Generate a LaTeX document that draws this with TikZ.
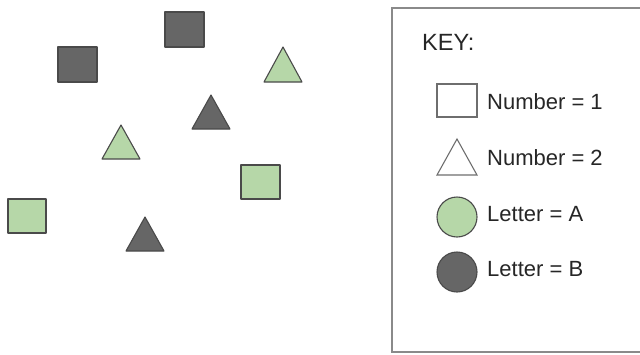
\documentclass[tikz,border=0pt]{standalone}
\usepackage{fontspec}
\setmainfont{Liberation Sans}
\definecolor{lgreen}{HTML}{B6D7A8}
\definecolor{dgray}{HTML}{666666}
\definecolor{edge}{HTML}{4A4A4A}
\definecolor{keyline}{HTML}{8A8A8A}
\definecolor{txt}{HTML}{262626}
\tikzset{
  shp/.style={draw=edge, line width=1.1pt, line join=round},
  gshape/.style={shp, fill=lgreen},
  dshape/.style={shp, fill=dgray},
  wshape/.style={draw=edge!80, line width=1.1pt, fill=white},
  lbl/.style={anchor=west, inner sep=0pt, text=txt, font=\fontsize{22}{26}\selectfont},
}
\begin{document}
\begin{tikzpicture}[x=1pt,y=-1pt]
\useasboundingbox (0,0) rectangle (640,354);
\clip (0,0) rectangle (640,354);
% scattered shapes
\draw[dshape] (165,12) rectangle (204,47);
\draw[dshape] (58,47) rectangle (97,82);
\draw[gshape] (264,82) -- (302,82) -- (283,47) -- cycle;
\draw[dshape] (192,129) -- (230,129) -- (211,95) -- cycle;
\draw[gshape] (102,159) -- (140,159) -- (121,125) -- cycle;
\draw[gshape] (241,165) rectangle (280,199);
\draw[gshape] (8,199) rectangle (46,233);
\draw[dshape] (126,251) -- (164,251) -- (145,217) -- cycle;
% key
\draw[draw=keyline, line width=1.2pt] (392,8) rectangle (650,352);
\node[lbl, font=\fontsize{23.5}{26}\selectfont] (key) at (422,42) {KEY:};
\draw[wshape] (437,84) rectangle (477,117);
\draw[wshape] (437,175) -- (477,175) -- (457,139) -- cycle;
\draw[gshape] (457,217) circle (20);
\draw[dshape] (457,272) circle (20);
\node[lbl] (n1) at (487,102) {Number = 1};
\node[lbl] (n2) at (487,158) {Number = 2};
\node[lbl] (la) at (487,214) {Letter = A};
\node[lbl] (lb) at (487,269) {Letter = B};
\end{tikzpicture}
\end{document}
